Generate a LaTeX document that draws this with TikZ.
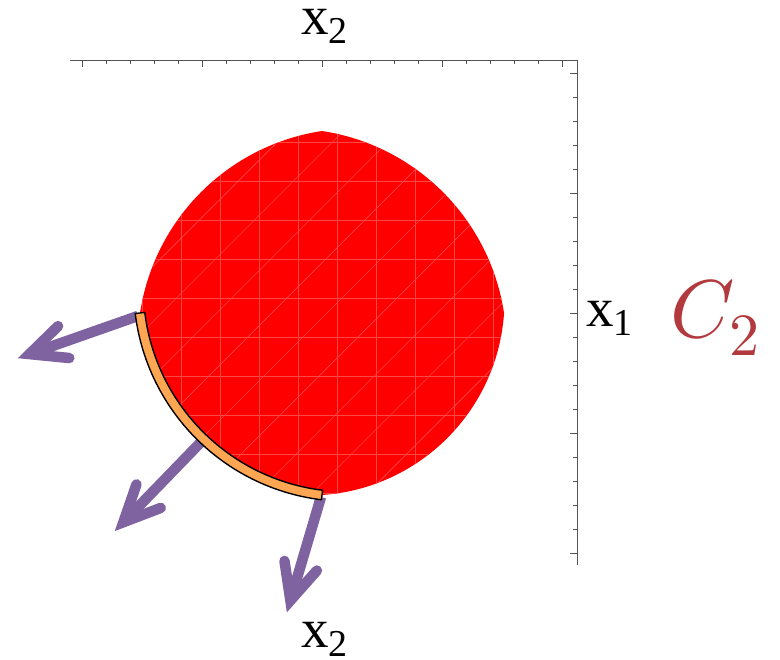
\documentclass[tikz,border=0pt]{standalone}
\usepackage{fontspec}
\newfontfamily\labfont{Liberation Serif}
\newfontfamily\lmmath{Latin Modern Math}
\usetikzlibrary{calc}
\definecolor{arrowpurple}{RGB}{127,99,161}
\definecolor{bandorange}{RGB}{255,166,82}
\definecolor{labelred}{RGB}{178,58,62}
\definecolor{axisgray}{RGB}{85,85,85}
\definecolor{meshred}{RGB}{255,70,70}
\newcommand\sublab[1]{\raisebox{-9pt}{\fontsize{38}{40}\selectfont #1}}
\begin{document}
\begin{tikzpicture}[x=1pt,y=1pt,
  axisline/.style={axisgray, line width=0.9pt},
  tickmark/.style={axisgray, line width=0.7pt},
  shaft/.style={arrowpurple, line width=10.5pt},
  barbs/.style={arrowpurple, line width=10.5pt, line cap=round, line join=miter},
  band/.style={fill=bandorange, draw=black, line width=1.4pt, line join=round},
  mesh/.style={meshred, line width=0.6pt},
  axlab/.style={inner sep=0pt, anchor=base west, font=\labfont\fontsize{55}{60}\selectfont},
]
\useasboundingbox (0,0) rectangle (780,660);
% axes frame
\coordinate (tl) at (70,600);
\coordinate (corner) at (577,600);
\coordinate (br) at (577,95);
\draw[axisline] (tl) -- (corner) -- (br);
\foreach \i in {0,...,20}{
  \pgfmathsetmacro{\xx}{82+24*\i}
  \pgfmathsetmacro{\yy}{107+24*\i}
  \pgfmathsetmacro{\len}{mod(\i,5)==0 ? 7 : 4}
  \draw[tickmark] (\xx,600) -- (\xx,600-\len);
  \draw[tickmark] (577,\yy) -- (577-\len,\yy);
}
% labels
\node[axlab] (x2top) at (301,625) {x\sublab{2}};
\node[axlab] (x2bot) at (301,12) {x\sublab{2}};
\node[axlab] (x1) at (586,333) {x\sublab{1}};
\node[inner sep=0pt, anchor=base west, text=labelred] (c2) at (670,322)
  {{\lmmath\fontsize{82}{88}\selectfont 𝐶}\kern1pt\raisebox{-18pt}{\lmmath\fontsize{60}{64}\selectfont 2}};
% red region
\coordinate (O) at (322,347);
\coordinate (Rc) at (504,347);
\coordinate (cll) at ($(O)+(25.53,25.53)$);
\begin{scope}
\path[clip] (Rc) arc[start angle=8.61, end angle=81.39, radius=216.9]
  arc[start angle=98.61, end angle=171.39, radius=216.9]
  arc[start angle=187.01, end angle=262.99, radius=209.1]
  arc[start angle=273.86, end angle=356.14, radius=195.6] -- cycle;
\fill[red] (130,150) rectangle (520,540);
\foreach \t in {0,...,9}{
  \draw[mesh] (142+39*\t,150) -- (142+39*\t,540);
  \draw[mesh] (130,167+39*\t) -- (520,167+39*\t);
}
\foreach \t in {-5,...,5}{
  \draw[mesh] (130,150+39*\t*1.414) -- (520,540+39*\t*1.414);
}
\end{scope}
% arrows
\coordinate (s1) at (138,344);
\coordinate (v1) at (29.5,305.9);
\coordinate (s2) at (203,220);
\coordinate (v2) at (123.4,137.8);
\coordinate (s3) at (321,163);
\coordinate (v3) at (290.4,59.5);
\foreach \k in {1,2,3}{
  \draw[shaft] (s\k) -- (v\k);
  \draw[barbs] ($(v\k)!40pt!25:(s\k)$) -- (v\k) -- ($(v\k)!40pt!-25:(s\k)$);
}
% orange band
\filldraw[band] ($(cll)+(187.01:204.3)$) arc[start angle=187.01, end angle=262.99, radius=204.3]
  -- ($(cll)+(262.99:213.9)$) arc[start angle=262.99, end angle=187.01, radius=213.9] -- cycle;
\end{tikzpicture}
\end{document}
